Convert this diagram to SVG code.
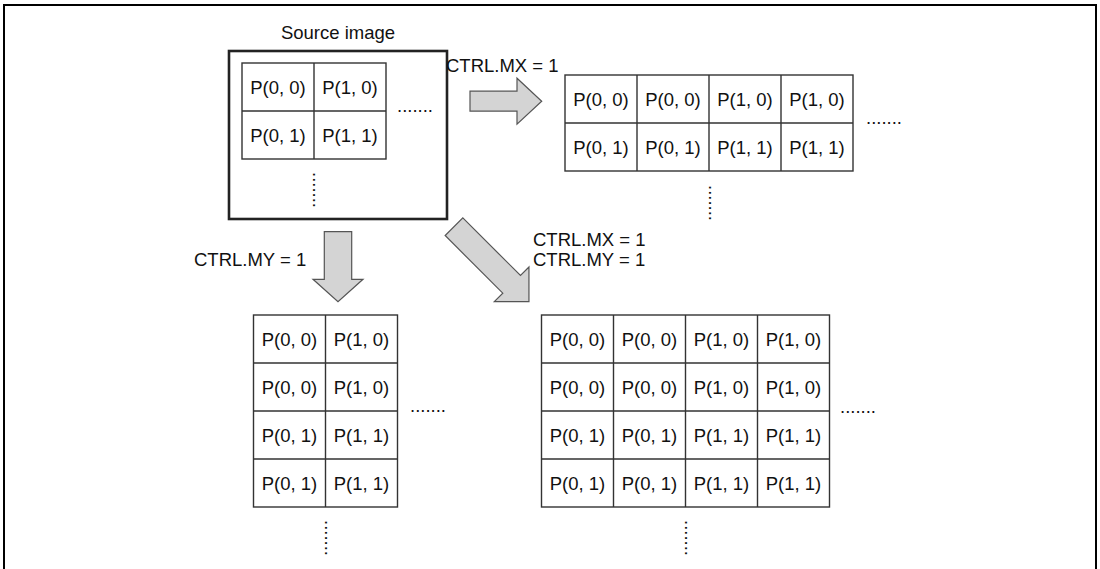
<svg xmlns="http://www.w3.org/2000/svg" width="1100" height="569" viewBox="0 0 1100 569">
<style>
text{font-family:"Liberation Sans",Arial,sans-serif;font-size:18.5px;fill:#111}
.c{text-anchor:middle}
.g{fill:#fff;stroke:#333;stroke-width:1.4}
.gl{stroke:#333;stroke-width:1.4;fill:none}
.arr{fill:#d4d4d4;stroke:#555;stroke-width:1.2;stroke-linejoin:miter}
</style>
<rect width="1100" height="569" fill="#fff"/>
<path d="M4,569 V5 H1096 V569" fill="none" stroke="#000" stroke-width="2"/>

<g id="source">
<text class="c" x="338" y="39">Source image</text>
<rect x="229" y="51" width="218" height="168" fill="none" stroke="#222" stroke-width="2.6"/>
<rect class="g" x="242" y="63" width="144" height="96"/>
<path class="gl" d="M314,63 V159 M242,111 H386"/>
<text class="c" x="278" y="93.5">P(0, 0)</text>
<text class="c" x="350" y="93.5">P(1, 0)</text>
<text class="c" x="278" y="141.5">P(0, 1)</text>
<text class="c" x="350" y="141.5">P(1, 1)</text>
<text x="397" y="112">.......</text>
<text transform="translate(313,172) rotate(90)">.......</text>
</g>

<g id="mx">
<rect class="g" x="565" y="75" width="288" height="96"/>
<path class="gl" d="M637,75 V171 M709,75 V171 M781,75 V171 M565,123 H853"/>
<text class="c" x="601" y="105.5">P(0, 0)</text>
<text class="c" x="673" y="105.5">P(0, 0)</text>
<text class="c" x="745" y="105.5">P(1, 0)</text>
<text class="c" x="817" y="105.5">P(1, 0)</text>
<text class="c" x="601" y="153.5">P(0, 1)</text>
<text class="c" x="673" y="153.5">P(0, 1)</text>
<text class="c" x="745" y="153.5">P(1, 1)</text>
<text class="c" x="817" y="153.5">P(1, 1)</text>
<text x="866" y="124">.......</text>
<text transform="translate(709,185) rotate(90)">.......</text>
</g>

<g id="my">
<rect class="g" x="253.5" y="315" width="144" height="192"/>
<path class="gl" d="M325.5,315 V507 M253.5,363 H397.5 M253.5,411 H397.5 M253.5,459 H397.5"/>
<text class="c" x="289.5" y="345.5">P(0, 0)</text>
<text class="c" x="361.5" y="345.5">P(1, 0)</text>
<text class="c" x="289.5" y="393.5">P(0, 0)</text>
<text class="c" x="361.5" y="393.5">P(1, 0)</text>
<text class="c" x="289.5" y="441.5">P(0, 1)</text>
<text class="c" x="361.5" y="441.5">P(1, 1)</text>
<text class="c" x="289.5" y="489.5">P(0, 1)</text>
<text class="c" x="361.5" y="489.5">P(1, 1)</text>
<text x="410" y="412">.......</text>
<text transform="translate(325,520) rotate(90)">.......</text>
</g>

<g id="mxmy">
<rect class="g" x="541.5" y="315" width="288" height="192"/>
<path class="gl" d="M613.5,315 V507 M685.5,315 V507 M757.5,315 V507 M541.5,363 H829.5 M541.5,411 H829.5 M541.5,459 H829.5"/>
<text class="c" x="577.5" y="345.5">P(0, 0)</text>
<text class="c" x="649.5" y="345.5">P(0, 0)</text>
<text class="c" x="721.5" y="345.5">P(1, 0)</text>
<text class="c" x="793.5" y="345.5">P(1, 0)</text>
<text class="c" x="577.5" y="393.5">P(0, 0)</text>
<text class="c" x="649.5" y="393.5">P(0, 0)</text>
<text class="c" x="721.5" y="393.5">P(1, 0)</text>
<text class="c" x="793.5" y="393.5">P(1, 0)</text>
<text class="c" x="577.5" y="441.5">P(0, 1)</text>
<text class="c" x="649.5" y="441.5">P(0, 1)</text>
<text class="c" x="721.5" y="441.5">P(1, 1)</text>
<text class="c" x="793.5" y="441.5">P(1, 1)</text>
<text class="c" x="577.5" y="489.5">P(0, 1)</text>
<text class="c" x="649.5" y="489.5">P(0, 1)</text>
<text class="c" x="721.5" y="489.5">P(1, 1)</text>
<text class="c" x="793.5" y="489.5">P(1, 1)</text>
<text x="840" y="413">.......</text>
<text transform="translate(685,520) rotate(90)">.......</text>
</g>

<g id="connectors">
<path class="arr" transform="translate(470,101.2)" d="M0,-10 H47 V-23 L71.7,0 L47,23 V10 H0 Z"/>
<text x="446" y="72">CTRL.MX = 1</text>
<path class="arr" transform="translate(338,231.7) rotate(90)" d="M0,-13.7 H47.6 V-25 L70,0 L47.6,25 V13.7 H0 Z"/>
<text x="194" y="266">CTRL.MY = 1</text>
<path class="arr" transform="translate(454,226.7) rotate(45)" d="M0,-12.5 H81.5 V-24.5 L106,0 L81.5,24.5 V12.5 H0 Z"/>
<text x="533" y="246">CTRL.MX = 1</text>
<text x="533" y="266">CTRL.MY = 1</text>
</g>
</svg>
